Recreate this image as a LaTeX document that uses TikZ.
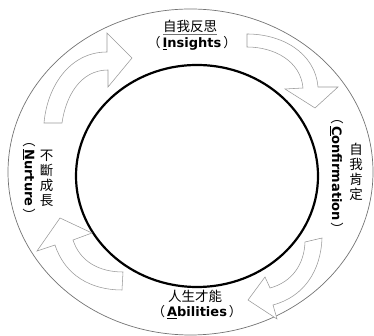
\documentclass[tikz,border=0pt]{standalone}
\usepackage{fontspec}
\newfontfamily\cjk{Noto Sans CJK TC}
\newfontfamily\lat{DejaVu Sans}
\newcommand\firstul[1]{\underline{#1}}
\newcommand\paren[1]{{\cjk （}\hspace{2pt}{\lat\bfseries #1}\hspace{2pt}{\cjk ）}}
\begin{document}
\begin{tikzpicture}[x=1pt,y=1pt,
  blockarrow/.style={draw=black!40, line width=0.55pt, fill=white, line join=miter},
  ring/.style={draw=black!55, line width=0.7pt},
  hub/.style={draw=black, line width=2.2pt},
  zh/.style={inner sep=0pt, font=\cjk\fontsize{13.5}{15}\selectfont, align=center},
  en/.style={inner sep=0pt, font=\fontsize{13}{15}\selectfont}]
\useasboundingbox (0,0) rectangle (374,336);

% outer ring and central circle
\coordinate (ringc) at (190.5,164);
\coordinate (hubc) at (197,160);
\draw[ring] (ringc) ellipse [x radius=182.5, y radius=163];
\draw[hub] (hubc) ellipse [x radius=121, y radius=111];

% four curved block arrows running clockwise
\draw[blockarrow] (44,213) to[out=85,in=180] (107,284) -- (107,303) -- (132,278)
  -- (108,249) -- (108,266) to[out=180,in=82] (62,213) -- cycle;
\draw[blockarrow] (247,302) to[out=0,in=95] (318,249) -- (338,249) -- (315,228)
  -- (285,247) -- (303,248) to[out=95,in=0] (247,289) -- cycle;
\draw[blockarrow] (322,98) to[out=-92,in=15] (273,31) -- (277,17) -- (248,36)
  -- (265,59) -- (270,48) to[out=15,in=-92] (305,94) -- cycle;
\draw[blockarrow] (60,118) -- (37,85) -- (55,91) to[out=-72,in=180] (122,46)
  -- (123,64) to[out=180,in=-72] (73,96) -- (92,103) -- cycle;

% labels
\node[zh] (ins-zh) at (190,308.5) {\textcolor{black!55}{\underline{\textcolor{black}{自我反思}}}};
\node[en] (ins-en) at (192,292.5) {\paren{\firstul{I}nsights}};
\node[zh] (abi-zh) at (195,40) {人生才能};
\node[en] (abi-en) at (197,24) {\paren{\firstul{A}bilities}};
\node[zh] (con-zh) at (356,164) {自\\我\\肯\\定};
\node[en, rotate=-90] (con-en) at (336.5,162.5) {\paren{\firstul{C}onfirmation}};
\node[zh] (nur-zh) at (46.5,157.5) {不\\斷\\成\\長};
\node[en, rotate=-90] (nur-en) at (29.5,158) {\paren{\firstul{N}urture}};
\end{tikzpicture}
\end{document}
